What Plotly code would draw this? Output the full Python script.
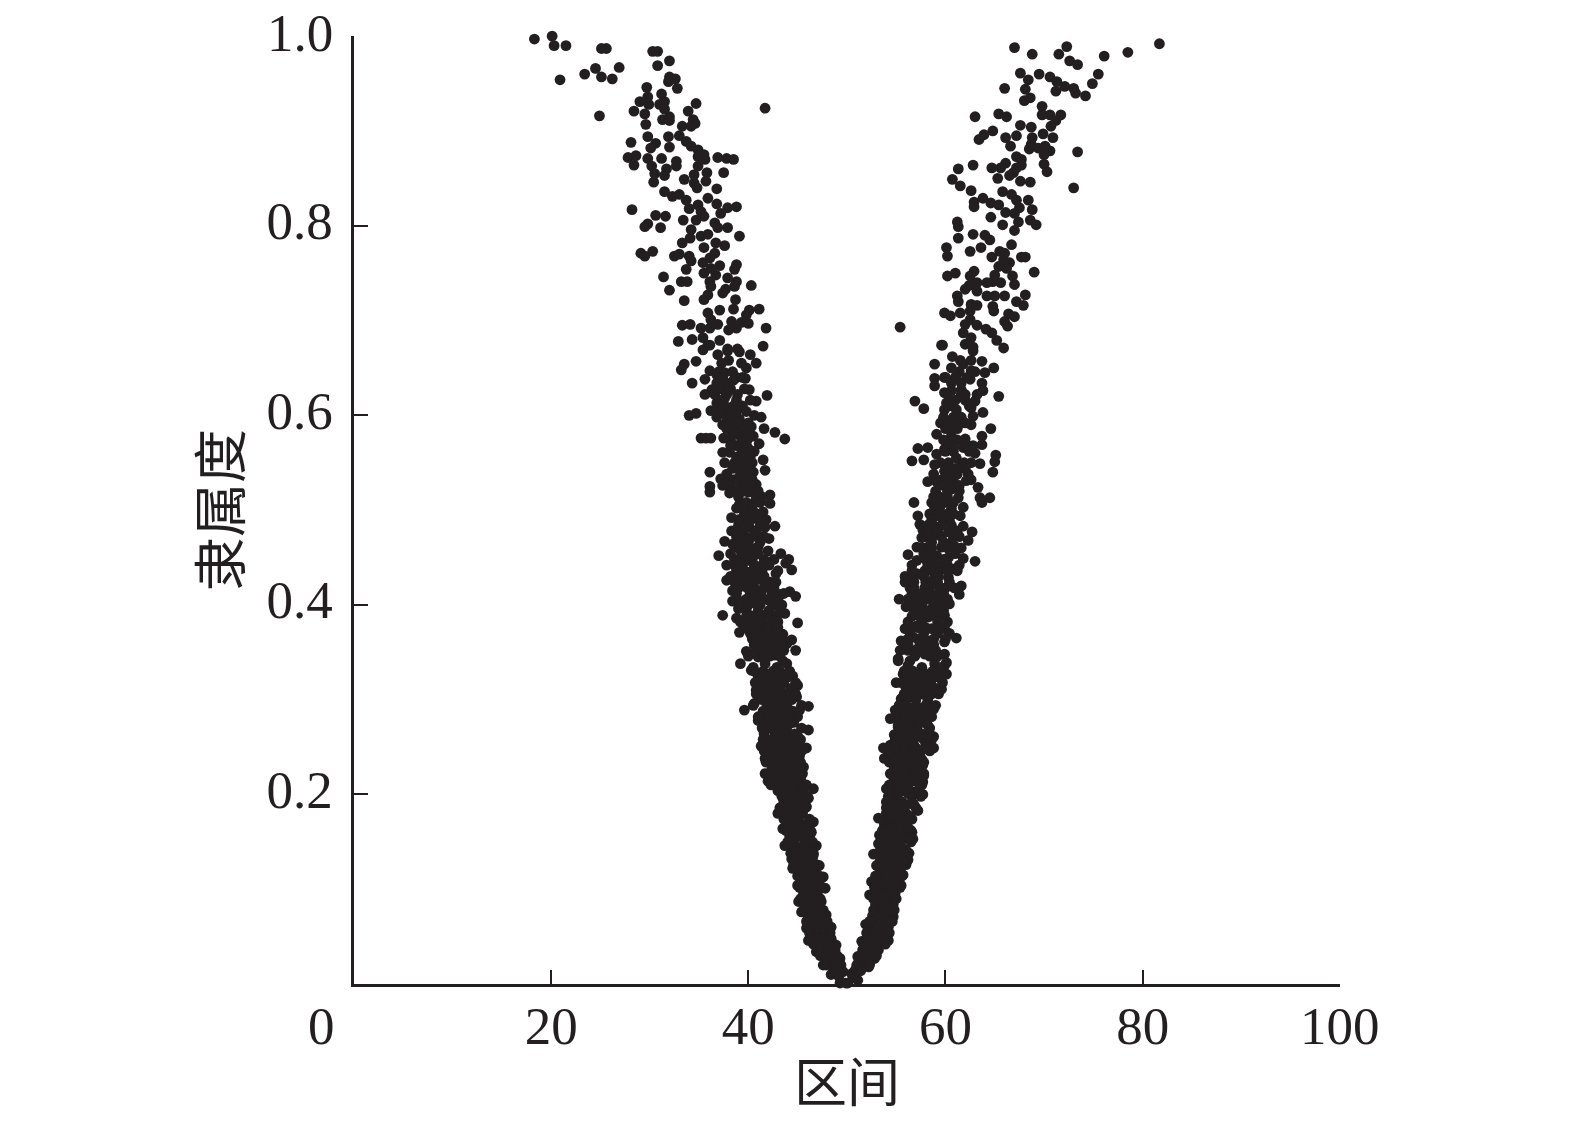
import plotly.graph_objects as go

# points as (interval, membership)
top_left = [
    (18.3,.997),(20.1,1.0),(20.3,.990),(21.5,.990),(25.1,.987),(25.6,.987),(30.3,.984),(30.8,.984),(32.0,.974),
    (30.8,.969),(26.9,.967),(24.5,.966),(23.4,.960),(25.1,.957),(26.2,.955),(20.9,.954),(32.0,.957),(32.6,.955),
    (31.9,.952),(32.8,.945),(29.7,.946),(31.2,.939),(29.8,.936),(29.0,.931),(31.5,.931),(29.9,.928),(31.0,.928),
    (34.7,.929),(28.4,.921),(29.5,.918),(33.9,.921),(31.5,.923),(24.9,.916),(32.0,.915),(31.3,.912),(32.0,.911),
    (34.4,.912),(34.6,.908),(34.2,.905),(33.3,.905),(29.6,.907),(29.8,.894),(31.9,.894),(33.0,.895),(28.1,.888),
    (30.6,.887),(30.1,.882),(32.0,.883),(33.7,.889),(34.2,.884),(34.9,.880),(27.8,.872),(28.6,.874),(29.8,.871),
    (31.2,.871),(34.9,.873),(35.5,.875),(35.6,.870),(36.9,.872),(37.8,.871),(38.5,.870),(28.4,.864),(30.2,.863),
    (32.7,.868),(32.7,.863),(34.9,.863),(31.7,.860),(30.5,.855),(31.5,.853),(35.8,.856),(37.5,.856),(34.5,.854),
    (33.5,.849),(34.5,.845),(35.7,.847),(30.4,.846),(34.8,.840),(36.8,.839),(31.5,.836),(32.3,.831),(33.0,.833),
    (33.7,.827),(35.9,.829),(36.8,.823),(34.9,.822),(34.0,.818),(38.8,.820),(37.9,.819),(35.2,.815),(37.2,.813),
    (28.2,.817),(30.6,.811),(31.6,.810),(33.4,.806),(34.7,.806),(35.5,.810),(29.8,.802),(29.5,.799),(31.1,.798),
    (36.6,.803),(36.9,.798),(37.9,.798),(34.2,.796),(34.1,.787),(35.2,.789),(35.9,.791),(39.1,.789),(33.3,.782),
    (36.7,.782),(37.6,.779),(35.5,.777),(29.1,.771),(29.5,.768),(30.3,.773),(36.6,.771),(32.5,.768),(33.0,.770),
    (34.0,.768),(34.2,.763),(36.1,.766),(35.4,.761),(37.1,.758),(38.8,.759),(38.6,.754),(33.7,.754),(35.5,.750),
    (36.7,.748),(36.2,.755),(31.4,.746),(37.9,.745),(36.1,.741),(38.8,.741),(38.6,.736),(33.2,.741),(33.8,.741),
    (40.3,.737),(32.0,.732),(36.2,.736),(37.7,.733),(37.4,.729),(35.9,.727),(35.5,.722),(33.5,.721),(38.7,.722),
    (35.9,.708),(37.1,.711),(38.5,.712),(41.1,.712),(40.1,.711),(39.8,.706),(36.2,.701),(38.3,.699),(33.3,.695),
    (34.1,.696),(36.9,.696),(35.2,.692),(36.1,.692),(39.3,.698),(40.0,.697),(38.8,.692),(38.0,.690),(41.8,.692),
    (32.9,.678),(34.3,.680),(35.4,.682),(37.1,.679),(35.9,.674),(41.5,.673),(37.9,.670),(38.9,.670),(41.7,.924),
]
top_right = [
    (67.0,.988),(68.8,.981),(72.3,.989),(71.5,.981),(72.6,.974),(73.4,.970),(76.1,.979),(78.5,.983),(81.7,.992),
    (67.6,.961),(68.4,.954),(69.5,.960),(70.6,.957),(71.3,.952),(75.5,.960),(74.9,.950),(66.0,.945),(68.1,.944),
    (71.2,.942),(72.1,.947),(73.0,.945),(73.2,.940),(74.2,.937),(68.0,.932),(68.6,.935),(69.8,.926),(69.8,.917),
    (70.6,.917),(71.7,.917),(71.2,.911),(70.7,.905),(65.4,.918),(66.2,.915),(63.0,.915),(67.6,.906),(68.7,.904),
    (64.8,.900),(63.9,.896),(63.4,.891),(67.2,.895),(66.1,.893),(69.9,.897),(70.9,.893),(68.8,.893),(66.6,.884),
    (68.7,.886),(68.5,.881),(69.4,.882),(70.1,.884),(70.6,.879),(73.4,.878),(70.0,.875),(67.2,.873),(67.7,.870),
    (66.1,.866),(64.7,.861),(65.6,.861),(67.7,.864),(67.2,.861),(70.0,.865),(70.3,.857),(66.9,.856),(66.5,.853),
    (61.3,.860),(62.8,.864),(60.7,.849),(65.3,.850),(67.6,.847),(68.6,.846),(61.5,.842),(73.0,.840),(62.6,.837),
    (65.8,.836),(66.7,.833),(63.8,.829),(67.2,.827),(68.4,.827),(64.6,.824),(65.4,.822),(62.9,.825),(62.9,.820),
    (67.5,.819),(68.8,.817),(66.1,.814),(67.0,.813),(64.6,.809),(67.4,.804),(68.6,.806),(69.2,.801),(61.2,.804),
    (61.3,.799),(65.8,.801),(67.0,.795),(62.8,.791),(64.0,.790),(64.5,.785),(61.3,.787),(66.7,.780),(60.1,.777),
    (60.2,.768),(63.6,.777),(62.5,.773),(65.5,.773),(66.0,.771),(64.7,.767),(67.7,.767),(68.1,.767),(65.9,.764),
    (66.5,.761),(65.4,.757),(66.2,.755),(69.0,.751),(61.0,.750),(60.2,.747),(62.9,.752),(62.5,.747),(65.0,.748),
    (66.8,.747),(64.8,.741),(63.2,.740),(64.2,.740),(65.6,.740),(67.0,.738),(62.4,.737),(62.0,.733),(63.2,.731),
    (68.1,.727),(64.2,.726),(65.0,.726),(66.0,.726),(61.2,.726),(61.3,.720),(67.2,.720),(67.9,.716),(62.6,.717),
    (63.2,.716),(64.8,.715),(64.9,.710),(62.5,.710),(59.9,.708),(60.5,.705),(61.5,.708),(66.4,.707),(67.0,.704),
    (66.0,.699),(66.3,.694),(62.5,.701),(63.2,.695),(62.0,.696),(55.4,.693),(64.1,.691),(64.7,.687),(61.8,.687),
    (62.6,.682),(65.2,.679),(59.7,.674),(62.0,.675),(62.8,.672),(65.9,.671),
]
mid_left = [
    (36.1,.674),(35.4,.669),(34.7,.657),(33.5,.654),(33.2,.648),(36.9,.664),(37.9,.668),(39.1,.667),(40.2,.664),
    (37.3,.655),(39.3,.655),(40.8,.655),(39.8,.650),(36.1,.647),(37.6,.645),(36.8,.643),(35.6,.638),(34.3,.634),
    (38.5,.637),(39.7,.639),(36.3,.627),(35.6,.622),(37.5,.627),(38.9,.622),(40.1,.627),(41.9,.621),(40.8,.615),
    (37.6,.618),(36.8,.613),(38.5,.610),(36.2,.605),(37.9,.603),(36.8,.598),(37.4,.590),(34.7,.602),(34.0,.600),
    (39.1,.596),(40.6,.600),(41.3,.598),(38.8,.587),(40.3,.588),(41.6,.586),(42.7,.582),(43.7,.575),(35.2,.576),
    (35.7,.576),(36.2,.576),(37.5,.576),(39.3,.576),(40.5,.578),(41.1,.570),(38.8,.568),(40.0,.565),(37.4,.561),
    (38.1,.561),(39.3,.559),(38.6,.550),(39.8,.547),(41.5,.553),(41.7,.542),(40.5,.540),(36.1,.540),(37.2,.533),
    (37.9,.535),(38.1,.529),(39.1,.531),(40.8,.527),(36.1,.525),(36.1,.519),(38.1,.518),(39.3,.526),(40.0,.519),
    (42.2,.516),(39.1,.506),(40.6,.508),(42.2,.507),(41.5,.498),(40.0,.499),(38.3,.492),(39.3,.489),(41.0,.490),
    (42.7,.483),(40.1,.482),(38.3,.478),(41.7,.482),(39.6,.473),(41.0,.473),(42.1,.470),(37.6,.467),(38.4,.464),
    (39.3,.455),(41.0,.461),(42.0,.457),(43.3,.454),(44.1,.448),(43.8,.444),(44.4,.437),(37.0,.452),(37.8,.442),
    (38.8,.443),(40.0,.447),(41.3,.441),(39.6,.434),(37.8,.426),(38.6,.427),(39.3,.429),(42.8,.433),(42.2,.424),
    (41.0,.427),(39.9,.418),(38.4,.415),(44.2,.414),(44.8,.409),(43.2,.411),(41.3,.410),(42.2,.404),(40.8,.401),
    (38.4,.404),(39.1,.404),(37.4,.389),(38.8,.386),(39.0,.396),(43.7,.391),(42.9,.389),(41.7,.389),(45.0,.381),
    (40.0,.382),(41.0,.380),(42.3,.380),(39.1,.371),(41.5,.371),(43.5,.369),(43.0,.364),(44.4,.363),(41.7,.362),
    (43.9,.359),(44.8,.352),(39.8,.351),(41.8,.352),(41.0,.345),(42.7,.347),(43.5,.341),(39.2,.338),(41.7,.338),
    (40.5,.334),(42.9,.334),
]
mid_right = [
    (59.6,.674),(62.3,.676),(62.8,.668),(60.7,.662),(63.7,.657),(58.9,.654),(61.8,.654),(60.6,.650),(64.9,.650),
    (62.6,.647),(58.9,.639),(59.9,.640),(64.0,.645),(61.1,.640),(58.9,.631),(62.5,.638),(63.7,.634),(61.6,.627),
    (59.9,.624),(60.6,.626),(63.8,.626),(65.4,.620),(56.9,.615),(57.8,.607),(60.1,.613),(63.0,.615),(61.6,.622),
    (59.9,.606),(61.1,.606),(63.8,.603),(62.6,.608),(60.8,.598),(62.8,.599),(59.5,.592),(61.6,.592),(62.6,.590),
    (64.6,.586),(59.1,.580),(60.8,.587),(60.6,.578),(63.7,.578),(62.0,.575),(60.4,.569),(63.7,.569),(57.2,.565),
    (58.2,.566),(59.9,.564),(61.8,.566),(59.1,.559),(63.0,.560),(65.1,.558),(57.8,.553),(56.6,.552),(61.1,.555),
    (60.3,.550),(63.5,.549),(65.0,.551),(58.9,.548),(61.6,.547),(59.9,.541),(62.3,.538),(64.8,.540),(58.2,.530),
    (59.1,.530),(60.8,.531),(62.1,.531),(63.3,.524),(60.6,.522),(58.8,.514),(61.3,.513),(63.5,.513),(64.5,.513),
    (63.7,.508),(56.8,.508),(59.9,.508),(58.9,.503),(61.8,.503),(57.2,.494),(59.3,.494),(61.5,.494),(60.4,.489),
    (57.4,.485),(58.9,.483),(61.8,.483),(57.7,.479),(60.3,.477),(62.7,.477),(57.6,.471),(58.8,.473),(62.3,.468),
    (57.1,.461),(58.2,.461),(59.6,.461),(60.9,.462),(61.6,.460),(56.2,.453),(57.1,.447),(59.1,.452),(60.3,.450),
    (61.8,.449),(63.0,.446),(57.9,.436),(59.6,.438),(60.9,.438),(57.1,.433),(55.9,.430),(55.9,.424),(58.8,.427),
    (60.3,.429),(56.4,.418),(57.9,.418),(59.4,.418),(61.6,.420),(55.3,.406),(57.2,.406),(58.9,.410),(60.9,.418),
    (61.4,.411),(56.0,.398),(57.2,.390),(58.6,.396),(60.4,.401),(59.9,.389),(58.2,.387),(55.9,.375),(57.1,.378),
    (58.6,.375),(59.9,.375),(61.1,.365),(55.5,.362),(56.7,.366),(58.2,.362),(59.9,.361),(55.4,.352),(55.2,.343),
    (56.9,.352),(59.9,.348),(57.9,.348),(56.4,.341),(58.9,.338),(59.9,.336),(56.2,.336),(57.6,.334),
]
low_left = [
    (40.3,.331),(40.8,.310),(40.6,.296),(39.6,.289),(41.0,.278),(41.6,.264),(41.3,.251),(41.7,.238),(41.7,.222),
    (42.0,.214),(43.0,.180),(43.5,.199),(43.5,.164),(43.7,.146),(44.4,.132),(44.5,.122),(45.0,.104),(45.1,.087),
    (45.4,.076),(45.9,.059),(46.1,.046),(46.9,.034),(47.6,.020),(48.4,.010),(49.3,.001),(43.9,.338),(44.5,.325),
    (45.0,.315),(44.9,.303),(46.1,.293),(45.2,.289),(44.2,.275),(46.1,.268),(45.0,.261),(45.9,.249),(45.2,.241),
    (45.6,.229),(46.6,.206),(46.1,.196),(45.9,.187),(46.6,.171),(46.4,.160),(46.9,.146),(46.6,.136),(47.2,.125),
    (47.6,.113),(47.8,.101),(47.4,.087),(47.9,.073),(48.4,.060),(48.9,.041),(49.3,.027),(49.6,.013),(49.9,.001),
]
low_right = [
    (55.2,.341),(55.7,.327),(55.0,.318),(56.4,.311),(55.5,.301),(54.9,.289),(54.4,.280),(55.2,.271),(54.8,.263),
    (53.7,.249),(54.9,.249),(53.8,.238),(54.4,.222),(54.0,.206),(54.0,.192),(53.2,.175),(53.3,.157),(53.2,.148),
    (52.7,.137),(53.0,.125),(52.5,.108),(52.3,.094),(52.7,.078),(51.9,.063),(51.5,.045),(51.1,.029),(50.5,.011),
    (50.1,.001),(60.1,.339),(60.1,.327),(59.6,.311),(58.8,.290),(58.2,.273),(58.8,.261),(58.8,.249),(57.7,.231),
    (57.8,.220),(57.7,.213),(57.7,.200),(57.2,.183),(56.4,.175),(56.6,.160),(56.7,.153),(56.2,.131),(55.7,.115),
    (55.5,.104),(54.7,.071),(54.2,.046),(52.8,.027),(52.2,.018),(51.1,.004),
]

# where the cloud is too dense to pick out dots: estimated per membership row
dense_left = [
    (.658,[38.0]),(.646,[37.0,38.4]),(.634,[36.8,37.8]),(.622,[36.6,37.8]),(.610,[37.0,37.6,39.4]),
    (.598,[37.8,38.4]),(.586,[37.8,39.4]),(.574,[38.2,39.9]),(.562,[39.9,40.6]),(.550,[37.6,39.0,40.4]),
    (.544,[38.4,39.0,40.2]),(.538,[37.8,39.2,39.8]),(.532,[38.6,39.8,40.4]),(.526,[37.4,38.2,40.2]),
    (.520,[38.8,39.6,41.0]),(.514,[39.0,40.8,41.4]),(.508,[39.8,41.2]),(.502,[38.8,39.4,40.4]),
    (.496,[39.6,40.8,41.2]),(.490,[39.0,40.2,41.8]),(.484,[39.0,40.0,41.2]),(.478,[39.2,40.8]),
    (.472,[38.8,40.4,41.6]),(.466,[39.2,40.0,41.2]),(.460,[39.0,39.8,40.8]),(.454,[38.2,40.2,41.0]),
    (.448,[38.6,39.2,40.4,41.6,42.6]),(.442,[38.6,39.4,40.6,42.1]),(.436,[38.8,39.6,40.4,41.4,43.0]),
    (.430,[38.2,40.0,40.8,41.6]),(.424,[38.6,39.6,40.2,41.6,42.8]),(.418,[39.0,40.6,41.6,42.6]),
    (.412,[38.8,40.2,41.2,42.4,43.6]),(.406,[39.8,40.6,41.6,43.0]),(.400,[39.4,40.0,41.2,42.6,43.4]),
    (.394,[39.8,41.0,42.1,43.2]),(.388,[39.8,40.4,41.2,42.4]),(.382,[39.2,40.5,41.4,43.0]),
    (.376,[39.6,40.4,41.8,43.0]),(.370,[40.2,40.9,42.2,42.9]),(.364,[40.4,41.0,42.4,43.4]),
    (.358,[40.6,41.0,42.4,43.0]),(.352,[40.8,41.4,42.6,43.6]),(.346,[40.0,41.6,42.2,43.2]),
    (.330,[41.5,42.5,43.2]),(.324,[41.0,42.0,43.0,44.0]),(.318,[41.6,42.6,43.6]),(.312,[41.2,42.2,43.2,44.3]),
    (.306,[41.8,42.8,43.8]),(.300,[41.4,42.4,43.4,44.4]),(.294,[41.9,42.9,43.9]),(.288,[41.5,42.5,43.5,44.5]),
    (.282,[42.0,43.0,44.0]),(.276,[41.6,42.6,43.6,44.6]),(.270,[42.2,43.1,43.9]),(.264,[42.7,43.7,44.7]),
    (.258,[42.4,43.3,44.2]),(.252,[42.0,43.0,44.0,45.0]),(.246,[42.5,43.5,44.4]),(.240,[42.2,43.2,44.0,45.0]),
    (.234,[42.7,43.7,44.5]),(.228,[42.4,43.4,44.2,45.0]),(.222,[42.9,43.9,44.7]),(.216,[42.6,43.4,44.4,45.3]),
    (.210,[43.1,44.0,45.0]),(.204,[43.0,43.8,44.8,45.6]),(.198,[44.4,45.2]),(.192,[43.6,44.4,45.4]),
    (.186,[44.0,44.9]),(.180,[43.7,44.6,45.5]),(.174,[44.2,45.1]),(.168,[44.0,44.8,45.8]),(.162,[44.4,45.4]),
    (.156,[44.2,45.0,46.0]),(.150,[44.6,45.7]),(.144,[44.6,45.3,46.2]),(.138,[45.0,46.0]),(.132,[45.0,45.7,46.5]),
    (.126,[45.3,46.2]),(.120,[45.1,46.0,46.8]),(.114,[45.7,46.5]),(.108,[45.4,46.3,47.2]),(.102,[45.9,46.9]),
    (.096,[45.6,46.4,47.0]),(.090,[46.0,46.7]),(.084,[45.9,46.5,47.1]),(.078,[46.2,47.0]),(.072,[46.1,47.0,47.5]),
    (.066,[46.6,47.5]),(.060,[46.4,47.2,47.9]),(.054,[47.0,47.8]),(.048,[46.8,47.6,48.4]),(.042,[47.4,48.2]),
    (.036,[47.4,48.2,48.8]),(.030,[48.0,48.7]),(.024,[48.0,48.8,49.1]),(.018,[48.6,49.2]),(.014,[48.9]),(.008,[49.2]),
]
dense_right = [
    (.658,[61.5,62.6]),(.646,[61.4,63.0]),(.634,[60.6,61.6]),(.622,[60.2,62.0,63.2]),(.610,[60.6,62.4]),
    (.598,[59.8,61.6]),(.586,[60.0,61.2]),(.574,[59.8,61.2]),(.562,[60.0,60.8,62.4]),(.550,[59.5,61.9,62.6]),
    (.544,[60.2,61.0,62.0]),(.538,[58.8,60.8,61.2]),(.532,[59.6,60.2,62.6]),(.526,[59.8,61.4]),
    (.520,[59.0,60.2,61.4]),(.514,[59.4,60.2]),(.508,[58.6,59.0,60.8]),(.502,[59.4,60.6]),(.496,[58.4,60.2,60.8]),
    (.490,[58.6,60.0]),(.484,[58.2,59.6,60.6]),(.478,[58.2,59.2,61.2]),(.472,[58.0,59.6,60.8,61.4]),
    (.466,[58.6,59.8,60.6]),(.460,[57.6,58.6,60.2]),(.454,[57.8,58.6,61.0]),(.448,[58.0,58.6,59.8]),
    (.442,[56.6,58.2,59.0,60.2,61.4]),(.436,[56.6,58.6,60.2,61.2]),(.430,[56.8,57.8,59.3]),
    (.424,[56.8,58.0,59.2,60.4]),(.418,[56.8,58.4,60.0]),(.412,[56.6,57.6,58.2,59.8]),(.406,[56.2,58.2,59.6,60.2]),
    (.400,[56.8,57.6,59.0,60.0]),(.394,[56.8,57.8,59.2,59.8]),(.388,[56.6,57.4,58.4,59.2]),
    (.382,[56.2,57.6,59.2,60.2]),(.376,[56.6,57.2,58.0,59.4]),(.370,[56.4,57.8,59.2,60.4]),
    (.364,[56.2,57.2,58.8,60.0]),(.358,[56.2,57.4,58.8]),(.352,[56.2,57.0,58.0,59.0]),(.346,[56.9,58.4,59.2]),
    (.330,[56.7,57.7,58.7,59.5]),(.324,[56.2,57.2,58.2,59.2]),(.318,[56.5,57.5,58.5]),(.312,[56.0,57.0,58.0,59.0]),
    (.306,[56.6,57.6,58.6]),(.300,[56.0,57.0,58.2]),(.294,[56.0,57.0,58.0]),(.288,[55.5,56.5,57.5,58.4]),
    (.282,[55.8,56.8,57.6]),(.276,[55.4,56.4,57.4,58.0]),(.270,[56.0,57.1]),(.264,[55.6,56.6,57.6,58.4]),
    (.258,[55.5,56.5,57.8]),(.252,[54.4,55.8,56.8,58.0]),(.246,[55.2,56.3,57.5]),(.240,[54.4,55.6,56.6,57.4]),
    (.234,[55.0,56.0,57.0]),(.228,[54.8,55.6,56.6,57.2]),(.222,[55.3,56.3]),(.216,[54.8,55.8,56.8,57.2]),
    (.210,[54.9,56.0]),(.204,[54.6,55.6,56.4,57.2]),(.198,[54.9,56.6]),(.192,[54.6,55.6,56.6]),(.186,[54.5,55.6]),
    (.180,[54.0,55.2,56.0]),(.174,[54.2,55.4]),(.168,[53.8,55.0,56.0]),(.162,[54.2,55.5]),(.156,[53.8,54.8,56.0]),
    (.150,[54.0,55.2]),(.144,[53.6,54.6,55.6]),(.138,[53.7,55.0]),(.132,[53.4,54.4,55.6]),(.126,[53.8,55.0]),
    (.120,[53.4,54.4,55.4]),(.114,[53.4,54.6]),(.108,[53.0,54.0,55.0]),(.102,[53.3,54.6]),(.096,[52.9,53.9,54.9]),
    (.090,[53.2,54.5]),(.084,[52.9,53.8,54.7]),(.078,[53.3,54.2]),(.072,[52.6,53.6,54.2]),(.066,[52.8,53.8]),
    (.060,[52.3,53.2,54.2]),(.054,[52.5,53.5]),(.048,[52.0,52.9,53.8]),(.042,[52.2,53.2]),(.036,[51.6,52.4,53.2]),
    (.030,[51.8,52.4]),(.024,[51.2,51.9,52.4]),(.018,[51.0,51.6]),(.014,[50.8,51.4]),(.008,[50.6]),
]
# outer rim of each arm in the solid part
rim_rows = [
    (.330,[40.6,44.2,55.8,59.8]),(.318,[40.7,44.8,55.5,59.7]),(.306,[40.8,44.8,55.8,59.3]),(.294,[40.5,45.4,55.3,59.0]),
    (.282,[41.0,45.0,54.9,58.6]),(.270,[41.4,45.4,55.4,58.4]),(.258,[41.5,45.3,54.9,58.6]),(.246,[41.6,45.4,54.2,58.4]),
    (.234,[41.8,45.3,54.3,57.8]),(.222,[42.0,45.5,54.6,57.8]),(.210,[42.3,45.9,54.3,57.6]),(.198,[43.4,46.0,54.2,57.5]),
    (.186,[43.2,45.8,54.0,57.0]),(.174,[43.6,46.2,53.6,56.6]),(.162,[43.8,46.3,53.6,56.5]),(.150,[44.0,46.5,53.4,56.5]),
    (.138,[44.3,46.6,53.1,56.3]),(.126,[44.6,46.9,53.2,56.0]),(.114,[45.0,47.2,52.9,55.6]),(.102,[45.2,47.4,52.8,55.4]),
    (.090,[45.3,47.3,52.7,55.0]),(.078,[45.6,47.6,52.8,54.8]),(.066,[45.9,48.0,52.3,54.6]),(.054,[46.2,48.3,52.0,54.3]),
    (.042,[46.6,48.7,51.8,53.9]),(.030,[47.3,49.0,51.4,53.0]),(.020,[47.9,49.4,51.0,52.3]),
]
# spots still left open against the reference
extra_rows = [
    (.273,[55.2,56.2,57.2]),(.261,[55.2,56.1,57.1,58.2]),(.249,[55.0,56.0,57.0,58.0]),(.237,[54.8,55.8,56.8,57.6]),
    (.225,[55.0,56.0,57.0]),(.213,[55.2,56.4,57.2]),(.201,[55.2,56.2,57.0]),(.189,[55.0,56.0,56.8]),
    (.177,[54.6,55.6,56.4]),(.165,[54.6,55.6,56.2]),(.153,[54.4,55.6,56.2]),(.141,[54.2,55.2,56.0]),
    (.129,[54.2,55.2,55.8]),(.117,[54.0,55.0,55.4]),(.105,[53.7,54.4,55.2]),(.093,[53.6,54.2,54.8]),
    (.640,[37.4,38.8,39.4,60.0,61.0,62.2]),(.628,[37.0,38.2,39.6]),(.616,[37.4,38.8,40.2,60.4,61.0,62.0]),
    (.604,[37.2,38.8,39.8]),(.592,[38.2,39.0,40.0,60.2,61.0,62.0]),(.580,[38.4,39.0,40.0]),
    (.568,[38.2,39.2,39.8,60.8,62.2,62.8]),(.556,[38.8,39.6,40.2]),
]
x_ticks = [20, 40, 60, 80, 100]
y_ticks = [0.2, 0.4, 0.6, 0.8, 1.0]
# 1.0 gets dropped by plotly once it pokes above the figure, so it is an annotation
y_labels = ["0.2", "0.4", "0.6", "0.8", ""]
y_top_label = "1.0"

INK = "#231f20"
FONT = "Liberation Serif, Noto Sans CJK SC"

points = top_left + top_right + mid_left + mid_right + low_left + low_right
for row_y, row_xs in dense_left + dense_right + rim_rows + extra_rows:
    points += [(x, row_y) for x in row_xs]

fig = go.Figure()
fig.add_trace(go.Scatter(
    x=[p[0] for p in points],
    y=[p[1] for p in points],
    mode="markers",
    marker=dict(size=10.8, color=INK),
    cliponaxis=False,
))

# margins allow for the 8px the page body adds round the figure
fig.update_layout(
    width=1575,
    height=1125,
    margin=dict(l=346, r=243, t=28, b=149),
    paper_bgcolor="white",
    plot_bgcolor="white",
    showlegend=False,
    font=dict(family=FONT, size=53, color=INK),
    xaxis=dict(
        range=[0, 100.02],
        tickvals=x_ticks,
        ticks="inside",
        ticklen=14,
        tickwidth=2.3,
        tickcolor=INK,
        showline=True,
        linewidth=2.5,
        linecolor=INK,
        showgrid=False,
        zeroline=False,
        automargin=False,
        title=dict(text="区间", standoff=11, font=dict(size=53)),
        ticklabelstandoff=-6,
    ),
    yaxis=dict(
        range=[0, 1.0002],
        tickvals=y_ticks,
        ticktext=y_labels,
        ticks="inside",
        ticklen=14,
        tickwidth=2.3,
        tickcolor=INK,
        showline=True,
        linewidth=2.5,
        linecolor=INK,
        showgrid=False,
        zeroline=False,
        automargin=False,
        title=dict(text="隶属度", standoff=8, font=dict(size=54)),
        ticklabelstandoff=8,
        ticklabelshift=-5,
    ),
)

# the 0 sits off to the left of the corner, not under it
fig.add_annotation(x=0, y=0, xref="x", yref="y", text="0", showarrow=False, xshift=-33, yshift=-42)
fig.add_annotation(x=0, y=1, xref="x", yref="y", text=y_top_label, showarrow=False,
                   xanchor="right", xshift=-19, yshift=3)

fig.write_html("out.html")
